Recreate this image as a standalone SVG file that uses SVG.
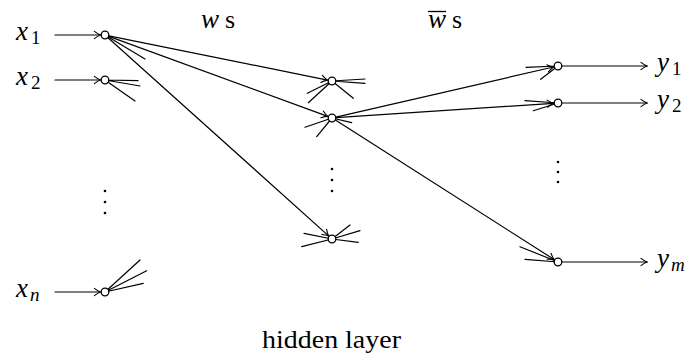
<svg xmlns="http://www.w3.org/2000/svg" width="688" height="356" viewBox="0 0 688 356">
  <style>
    .ln { stroke: #000; stroke-width: 1.2; fill: none; stroke-linecap: round; }
    .arr { marker-end: url(#tip); }
    .nd { fill: #fff; stroke: #000; stroke-width: 1.3; }
    .dot { fill: #000; }
    .t { font-family: "Liberation Serif", "Times New Roman", serif; font-size: 26px; fill: #000; }
    .m { font-style: italic; font-size: 27px; }
    .sub { font-size: 19px; font-style: normal; }
    .subm { font-size: 19px; font-style: italic; }
  </style>
  <defs>
    <marker id="tip" markerUnits="userSpaceOnUse" viewBox="-7 -5 8 10" refX="0" refY="0" markerWidth="8" markerHeight="10" orient="auto">
      <path d="M -6,-3.6 C -3.5,-1.7 -1.3,-0.5 0,0 C -1.3,0.5 -3.5,1.7 -6,3.6" fill="none" stroke="#000" stroke-width="1.1" stroke-linecap="round"/>
    </marker>
  </defs>

  <!-- weighted connections and dangling stubs -->
  <g id="connectors">
    <!-- inputs feeding the first layer -->
    <line class="ln arr" x1="55" y1="35" x2="100.4" y2="35"/>
    <line class="ln arr" x1="55" y1="80" x2="100.4" y2="80"/>
    <line class="ln arr" x1="55" y1="292" x2="100.4" y2="292"/>

    <!-- first layer to hidden layer -->
    <line class="ln arr" x1="108.9" y1="35.8" x2="327.5" y2="80.1"/>
    <line class="ln arr" x1="108.8" y1="36.4" x2="327.7" y2="116.4"/>
    <line class="ln arr" x1="108" y1="37.7" x2="328.6" y2="235.9"/>

    <!-- hidden layer to outputs -->
    <line class="ln arr" x1="335.9" y1="117.1" x2="553.5" y2="67"/>
    <line class="ln arr" x1="336" y1="117.7" x2="553.4" y2="103.3"/>
    <line class="ln arr" x1="335.4" y1="120.1" x2="554.1" y2="259.5"/>

    <!-- outputs -->
    <line class="ln arr" x1="562" y1="66" x2="647" y2="66"/>
    <line class="ln arr" x1="562" y1="103" x2="647" y2="103"/>
    <line class="ln arr" x1="562" y1="262" x2="647" y2="262"/>

    <!-- stubs for the connections not drawn in full -->
    <path class="ln" d="M105,35 L145,59"/>
    <path class="ln" d="M105,80 L138,80.7 M105,80 L140,86 M105,80 L135,101"/>
    <path class="ln" d="M105,292 L140,260 M105,292 L146.7,270.7 M105,292 L143.3,283.3"/>
    <path class="ln" d="M332,81 L365,79 M332,81 L365,83.3 M332,81 L307.3,93.3 M332,81 L308.3,102.7 M332,81 L353.3,98.3"/>
    <path class="ln" d="M332,118 L305,127.3 M332,118 L316.7,136.7 M332,118 L351.7,122.7"/>
    <path class="ln" d="M332,239 L304,233.3 M332,239 L301.7,246.7 M332,239 L350,225 M332,239 L360,230.7 M332,239 L358.3,242.3"/>
    <path class="ln" d="M558,66 L526,67.3 M558,66 L540.7,79.3"/>
    <path class="ln" d="M558,103 L525,100.7 M558,103 L533.3,110.7"/>
    <path class="ln" d="M558,262 L520,246.7 M558,262 L525,259.3"/>
  </g>

  <!-- input layer -->
  <g id="in1">
    <circle class="nd" cx="105" cy="35" r="3.8"/>
    <text class="t" y="40"><tspan class="m" x="16">x</tspan><tspan class="sub" x="31" dy="4">1</tspan></text>
  </g>
  <g id="in2">
    <circle class="nd" cx="105" cy="80" r="3.8"/>
    <text class="t" y="85"><tspan class="m" x="16">x</tspan><tspan class="sub" x="31" dy="4">2</tspan></text>
  </g>
  <g id="in-dots">
    <circle class="dot" cx="105" cy="191" r="1.3"/>
    <circle class="dot" cx="105" cy="202" r="1.3"/>
    <circle class="dot" cx="105" cy="213" r="1.3"/>
  </g>
  <g id="inN">
    <circle class="nd" cx="105" cy="292" r="3.8"/>
    <text class="t" y="297"><tspan class="m" x="16">x</tspan><tspan class="subm" x="30" dy="4">n</tspan></text>
  </g>

  <!-- hidden layer -->
  <g id="h1"><circle class="nd" cx="332" cy="81" r="3.8"/></g>
  <g id="h2"><circle class="nd" cx="332" cy="118" r="3.8"/></g>
  <g id="h-dots">
    <circle class="dot" cx="332" cy="169" r="1.3"/>
    <circle class="dot" cx="332" cy="180" r="1.3"/>
    <circle class="dot" cx="332" cy="191" r="1.3"/>
  </g>
  <g id="h3"><circle class="nd" cx="332" cy="239" r="3.8"/></g>

  <!-- output layer -->
  <g id="out1">
    <circle class="nd" cx="558" cy="66" r="3.8"/>
    <text class="t" y="71"><tspan class="m" x="657">y</tspan><tspan class="sub" x="672" dy="4">1</tspan></text>
  </g>
  <g id="out2">
    <circle class="nd" cx="558" cy="103" r="3.8"/>
    <text class="t" y="108"><tspan class="m" x="657">y</tspan><tspan class="sub" x="672" dy="4">2</tspan></text>
  </g>
  <g id="out-dots">
    <circle class="dot" cx="558" cy="162" r="1.3"/>
    <circle class="dot" cx="558" cy="172" r="1.3"/>
    <circle class="dot" cx="558" cy="182" r="1.3"/>
  </g>
  <g id="outM">
    <circle class="nd" cx="558" cy="262" r="3.8"/>
    <text class="t" y="267"><tspan class="m" x="657">y</tspan><tspan class="subm" x="671" dy="4">m</tspan></text>
  </g>

  <!-- weight labels and layer caption -->
  <g id="labels">
    <text class="t" y="28"><tspan class="m" x="201">w</tspan><tspan x="225">s</tspan></text>
    <line x1="428" y1="11.5" x2="446" y2="11.5" stroke="#000" stroke-width="1.3"/>
    <text class="t" y="28"><tspan class="m" x="428">w</tspan><tspan x="452">s</tspan></text>
    <text class="t" x="262" y="348" textLength="139" lengthAdjust="spacingAndGlyphs">hidden layer</text>
  </g>
</svg>
